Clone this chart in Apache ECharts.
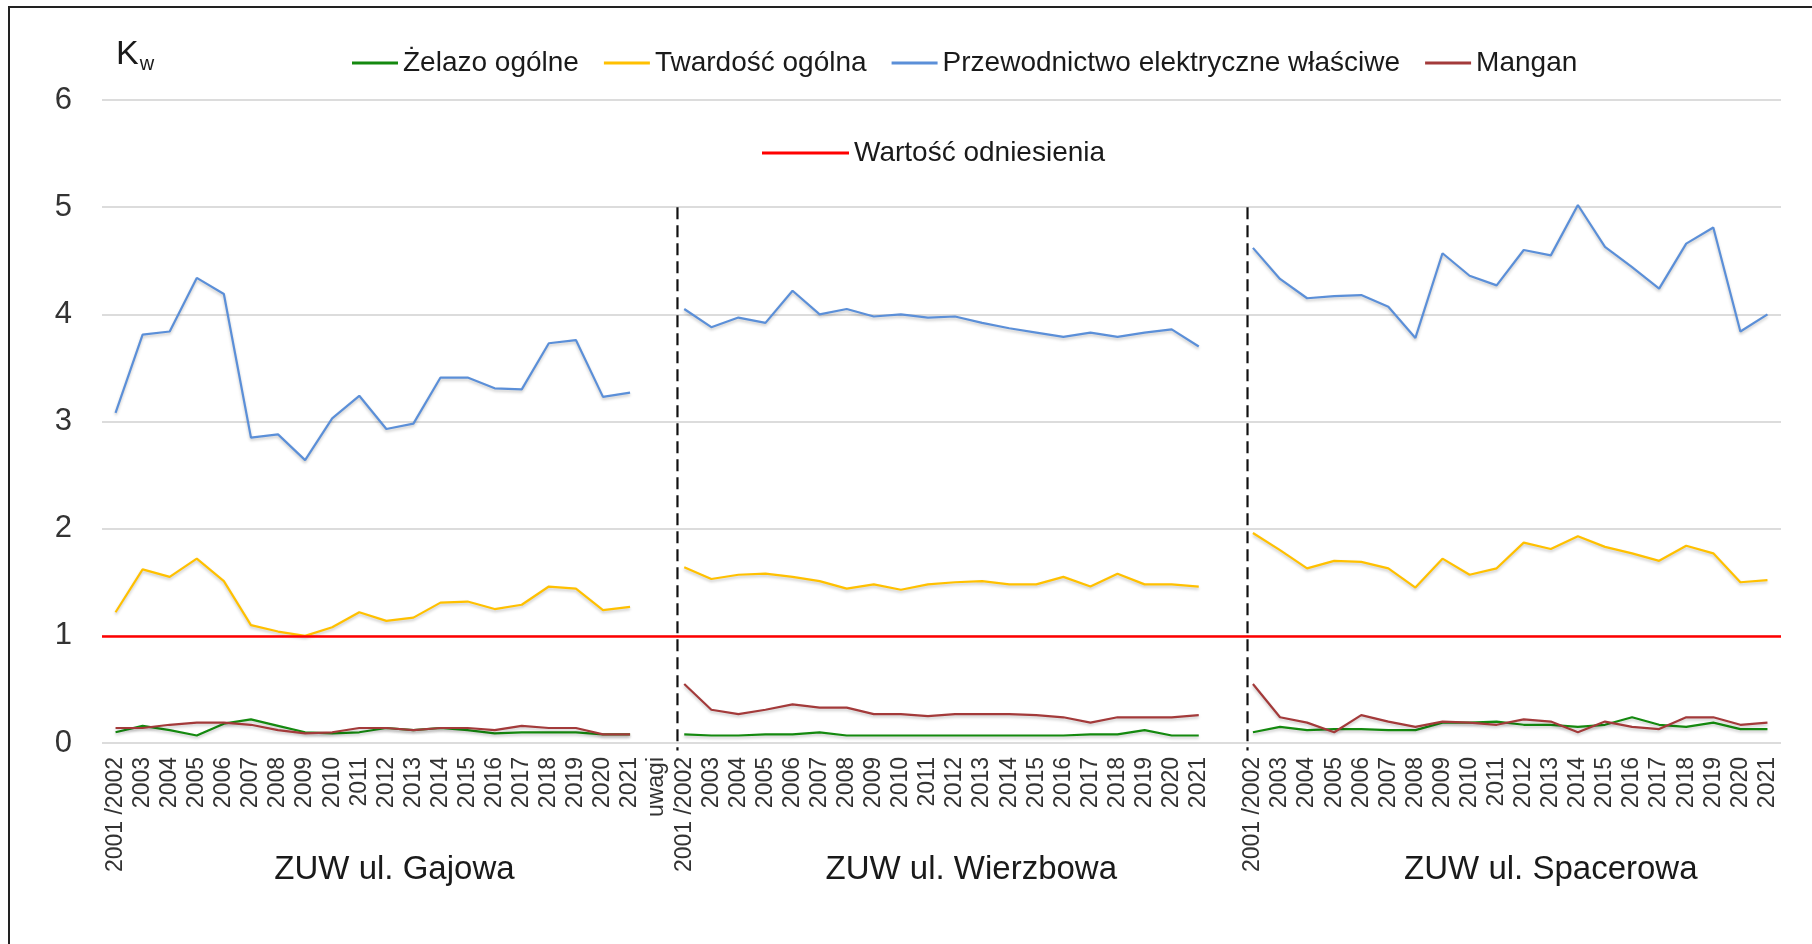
<!DOCTYPE html>
<html>
<head>
<meta charset="utf-8">
<title>Kw</title>
<script src="https://cdn.jsdelivr.net/npm/echarts@6/dist/echarts.min.js"></script>
<style>
  html, body { margin: 0; padding: 0; background: #fff; }
  #chart { width: 1812px; height: 944px; }
</style>
</head>
<body>
<div id="chart"></div>
<script>
const years = ['2001 /2002', '2003', '2004', '2005', '2006', '2007', '2008', '2009', '2010', '2011',
  '2012', '2013', '2014', '2015', '2016', '2017', '2018', '2019', '2020', '2021']
const categories = [...years, 'uwagi', ...years, '', ...years]

const groupNames = ['ZUW ul. Gajowa', 'ZUW ul. Wierzbowa', 'ZUW ul. Spacerowa']
const groupCenters = [10.3, 31.6, 53.0]
const separators = [20.75, 41.8]
const separatorRange = [-0.07, 5]
const referenceValue = 1

// Żelazo ogólne
const zelazoGajowa = [0.10, 0.16, 0.12, 0.07, 0.18, 0.22, 0.16, 0.10, 0.09, 0.10, 0.14, 0.12, 0.14, 0.12, 0.09, 0.10, 0.10, 0.10, 0.08, 0.08]
const zelazoWierzbowa = [0.08, 0.07, 0.07, 0.08, 0.08, 0.10, 0.07, 0.07, 0.07, 0.07, 0.07, 0.07, 0.07, 0.07, 0.07, 0.08, 0.08, 0.12, 0.07, 0.07]
const zelazoSpacerowa = [0.10, 0.15, 0.12, 0.13, 0.13, 0.12, 0.12, 0.19, 0.19, 0.20, 0.17, 0.17, 0.15, 0.17, 0.24, 0.17, 0.15, 0.19, 0.13, 0.13]

// Twardość ogólna
const twardoscGajowa = [1.22, 1.62, 1.55, 1.72, 1.51, 1.10, 1.04, 1.00, 1.08, 1.22, 1.14, 1.17, 1.31, 1.32, 1.25, 1.29, 1.46, 1.44, 1.24, 1.27]
const twardoscWierzbowa = [1.64, 1.53, 1.57, 1.58, 1.55, 1.51, 1.44, 1.48, 1.43, 1.48, 1.50, 1.51, 1.48, 1.48, 1.55, 1.46, 1.58, 1.48, 1.48, 1.46]
const twardoscSpacerowa = [1.96, 1.80, 1.63, 1.70, 1.69, 1.63, 1.45, 1.72, 1.57, 1.63, 1.87, 1.81, 1.93, 1.83, 1.77, 1.70, 1.84, 1.77, 1.50, 1.52]

// Przewodnictwo elektryczne właściwe
const przewodGajowa = [3.08, 3.81, 3.84, 4.34, 4.19, 2.85, 2.88, 2.64, 3.03, 3.24, 2.93, 2.98, 3.41, 3.41, 3.31, 3.30, 3.73, 3.76, 3.23, 3.27]
const przewodWierzbowa = [4.05, 3.88, 3.97, 3.92, 4.22, 4.00, 4.05, 3.98, 4.00, 3.97, 3.98, 3.92, 3.87, 3.83, 3.79, 3.83, 3.79, 3.83, 3.86, 3.70]
const przewodSpacerowa = [4.62, 4.33, 4.15, 4.17, 4.18, 4.07, 3.78, 4.57, 4.36, 4.27, 4.60, 4.55, 5.02, 4.63, 4.44, 4.24, 4.66, 4.81, 3.84, 4.00]

// Mangan
const manganGajowa = [0.14, 0.14, 0.17, 0.19, 0.19, 0.17, 0.12, 0.09, 0.10, 0.14, 0.14, 0.12, 0.14, 0.14, 0.12, 0.16, 0.14, 0.14, 0.08, 0.08]
const manganWierzbowa = [0.55, 0.31, 0.27, 0.31, 0.36, 0.33, 0.33, 0.27, 0.27, 0.25, 0.27, 0.27, 0.27, 0.26, 0.24, 0.19, 0.24, 0.24, 0.24, 0.26]
const manganSpacerowa = [0.55, 0.24, 0.19, 0.10, 0.26, 0.20, 0.15, 0.20, 0.19, 0.17, 0.22, 0.20, 0.10, 0.20, 0.15, 0.13, 0.24, 0.24, 0.17, 0.19]

const FONT = "'Liberation Sans', Arial, sans-serif"

// three stations on one axis, with an empty slot between them
const joinGroups = (a, b, c) => [...a, null, ...b, null, ...c]

const makeLine = (name, color, data) => ({
  name,
  type: 'line',
  data,
  color,
  symbol: 'none',
  connectNulls: false,
  lineStyle: {
    color,
    width: 2.2,
    shadowColor: 'rgba(0, 0, 0, 0.22)',
    shadowBlur: 3,
    shadowOffsetY: 2
  }
})

// dashed vertical line between stations, drawn on the helper value axis
const makeSeparator = (x) => ({
  name: 'separator',
  type: 'line',
  xAxisIndex: 1,
  symbol: 'none',
  silent: true,
  clip: false,
  data: [[x, separatorRange[1]], [x, separatorRange[0]]],
  lineStyle: { color: '#111', width: 2.2, type: [12, 6] },
  z: 1
})

const chart = echarts.init(document.getElementById('chart'))

const option = {
  animation: false,
  textStyle: { fontFamily: FONT },
  grid: {
    left: 102,
    right: 31,
    top: 100,
    bottom: 201,
    containLabel: false
  },
  legend: [
    {
      data: ['Żelazo ogólne', 'Twardość ogólna', 'Przewodnictwo elektryczne właściwe', 'Mangan'],
      left: 347,
      top: 44,
      icon: 'rect',
      itemWidth: 46,
      itemHeight: 3,
      itemGap: 25,
      textStyle: { fontSize: 28, color: '#1a1a1a', fontFamily: FONT }
    },
    {
      data: ['Wartość odniesienia'],
      left: 757,
      top: 134,
      icon: 'rect',
      itemWidth: 87,
      itemHeight: 3,
      textStyle: { fontSize: 28, color: '#1a1a1a', fontFamily: FONT }
    }
  ],
  xAxis: [
    {
      type: 'category',
      data: categories,
      boundaryGap: true,
      axisLine: { show: false },
      axisTick: { show: false },
      axisLabel: {
        interval: 0,
        rotate: 90,
        margin: 14,
        fontSize: 23,
        color: '#333',
        fontFamily: FONT
      }
    },
    {
      // helper axis for separators and station names
      type: 'value',
      min: -0.5,
      max: categories.length - 0.5,
      show: false
    }
  ],
  yAxis: {
    type: 'value',
    min: 0,
    max: 6,
    interval: 1,
    axisLine: { show: false },
    axisTick: { show: false },
    axisLabel: { fontSize: 31, color: '#333', margin: 30, fontFamily: FONT },
    splitLine: { lineStyle: { color: '#d0d0d0', width: 1.6 } }
  },
  series: [
    makeLine('Żelazo ogólne', '#14890f', joinGroups(zelazoGajowa, zelazoWierzbowa, zelazoSpacerowa)),
    makeLine('Twardość ogólna', '#ffc000', joinGroups(twardoscGajowa, twardoscWierzbowa, twardoscSpacerowa)),
    makeLine('Przewodnictwo elektryczne właściwe', '#5b8fd8', joinGroups(przewodGajowa, przewodWierzbowa, przewodSpacerowa)),
    makeLine('Mangan', '#a33a3a', joinGroups(manganGajowa, manganWierzbowa, manganSpacerowa)),
    {
      name: 'Wartość odniesienia',
      type: 'line',
      data: [],
      color: '#ff0000',
      markLine: {
        silent: true,
        symbol: 'none',
        label: { show: false },
        lineStyle: { color: '#ff0000', width: 2.5, type: 'solid' },
        data: [{ yAxis: referenceValue }]
      }
    },
    ...separators.map(makeSeparator)
  ]
}

chart.setOption(option)

const graphics = [
  {
    type: 'rect',
    shape: { x: 9, y: 7, width: 3000, height: 3000 },
    style: { fill: 'none', stroke: '#222', lineWidth: 2 },
    silent: true
  },
  {
    type: 'text',
    left: 116,
    top: 38,
    style: {
      text: '{k|K}{w|w}',
      rich: {
        k: { fontSize: 34, fontFamily: FONT, fill: '#1a1a1a' },
        w: { fontSize: 20, fontFamily: FONT, fill: '#1a1a1a', padding: [18, 0, 0, 1] }
      }
    }
  }
]

const labelY = chart.convertToPixel({ yAxisIndex: 0 }, 0) + 127
groupNames.forEach((name, i) => {
  graphics.push({
    type: 'text',
    x: chart.convertToPixel({ xAxisIndex: 1 }, groupCenters[i]),
    y: labelY,
    style: {
      text: name,
      fontSize: 33,
      fontFamily: FONT,
      fill: '#1a1a1a',
      textAlign: 'center',
      textVerticalAlign: 'middle'
    }
  })
})

chart.setOption({ graphic: graphics })
</script>
</body>
</html>
